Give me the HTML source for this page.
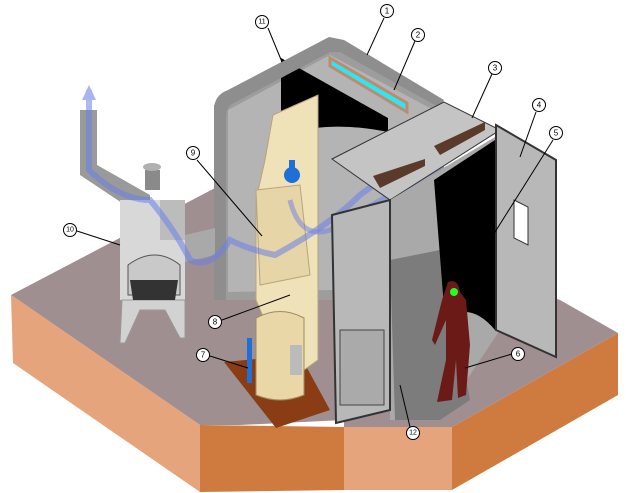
<!DOCTYPE html>
<html><head><style>
html,body{margin:0;padding:0;background:#fff;width:626px;height:493px;overflow:hidden}
svg{display:block}
text{font-family:"Liberation Sans",sans-serif;font-size:8px;text-anchor:middle;dominant-baseline:central}
</style></head><body>
<svg width="626" height="493" viewBox="0 0 626 493" xmlns="http://www.w3.org/2000/svg">
<!-- ground slab -->
<polygon points="11,295 215,188 560,300 618,333 452,427 344,427 344,420 240,425 200,425" fill="#a08f91"/>
<polygon points="11,295 200,425 200,492 13,363" fill="#e5a47c"/>
<polygon points="200,425 344,427 344,490 200,492" fill="#cf7a3f"/>
<polygon points="344,427 452,427 452,490 344,490" fill="#e5a47c"/>
<polygon points="452,427 618,333 618,395 452,490" fill="#cf7a3f"/>
<!-- pit -->
<polygon points="224,362 300,355 330,410 276,428" fill="#8a3d14"/>
<!-- left room walls -->
<polygon points="214,105 329,40 444,102 444,250 332,300 214,300" fill="#9d9d9d"/>
<polygon points="228,110 330,55 430,108 430,245 332,290 228,292" fill="#b4b4b4"/>
<path d="M281,58 L388,118 L388,132 Q330,120 281,135 Z" fill="#000"/>
<path d="M214,110 Q214,95 228,90 L329,37 L344,40 L444,100 L440,108 L340,52 L330,52 L232,104 Q226,108 226,118 L226,300 L214,300 Z" fill="#8e8e8e"/>
<polygon points="330,58 407,103 407,112 330,66" fill="#2ee6f0" stroke="#c08a70" stroke-width="3"/>
<!-- beige column -->
<polygon points="273,115 318,95 318,360 290,380 256,300 256,200 265,160" fill="#efe1b8" stroke="#b9a47a" stroke-width="1"/>
<polygon points="256,190 300,185 310,275 260,285" fill="#e6d5a6" stroke="#b9a47a"/>
<circle cx="292" cy="175" r="8" fill="#1e6fd6"/><rect x="289" y="160" width="6" height="10" fill="#1e6fd6"/>
<!-- tank -->
<path d="M256,318 Q280,305 304,318 L304,395 Q280,405 256,395 Z" fill="#e9d7a8" stroke="#a08a60"/>
<rect x="247" y="338" width="5" height="45" fill="#1e6fd6"/>
<rect x="290" y="345" width="12" height="30" fill="#bbb"/>
<!-- dust collector & ducts -->
<polygon points="80,110 97,110 97,165 150,195 150,205 125,205 80,175" fill="#9a9a9a"/>
<polygon points="120,200 185,200 185,300 120,300" fill="#d8d8d8"/>
<polygon points="160,200 185,200 185,240 160,240" fill="#bcbcbc"/>
<polygon points="185,235 215,228 215,255 185,262" fill="#a9a9a9"/>
<polygon points="145,170 160,170 160,190 145,190" fill="#8a8a8a"/>
<ellipse cx="152" cy="167" rx="9" ry="4" fill="#b0b0b0"/>
<path d="M128,265 Q155,245 180,265 L180,295 L128,295 Z" fill="#c9c9c9" stroke="#555"/>
<polygon points="122,300 185,300 185,338 180,338 165,310 140,310 125,343 120,343" fill="#d2d2d2" stroke="#999"/>
<polygon points="130,280 178,280 175,300 133,300" fill="#333"/>
<!-- blue airflow -->
<path d="M89,90 L89,170 Q120,200 150,200 Q175,230 190,260 Q210,270 230,240 Q250,250 275,255 Q330,225 360,195 Q420,150 480,128" fill="none" stroke="#6a7fe8" stroke-width="6" opacity="0.55"/>
<path d="M290,200 Q300,240 330,230 Q400,185 470,160" fill="none" stroke="#6a7fe8" stroke-width="5" opacity="0.5"/>
<polygon points="82,100 89,85 96,100" fill="#a8b5f0"/>
<!-- right booth -->
<polygon points="332,159 444,102 500,130 390,200" fill="#c4c4c4" stroke="#333"/>
<polygon points="373,176 425,159 425,166 380,188" fill="#5a3a2a"/>
<polygon points="434,146 485,122 485,130 440,155" fill="#5a3a2a"/>
<polygon points="390,200 500,134 500,330 440,420 390,420" fill="#a9a9a9"/>
<polygon points="390,260 440,250 470,400 440,420 395,420" fill="#7c7c7c"/>
<path d="M434,180 L495,140 L495,330 Q470,300 445,320 Z" fill="#000"/>
<polygon points="332,215 390,200 390,410 336,423" fill="#b8b8b8" stroke="#333" stroke-width="2"/>
<rect x="340" y="330" width="44" height="75" fill="#aaa" stroke="#444"/>
<polygon points="496,125 556,160 556,357 496,330" fill="#b8b8b8" stroke="#333" stroke-width="2"/>
<polygon points="514,200 528,207 528,245 514,238" fill="#fff" stroke="#333"/>
<!-- person -->
<path d="M448,282 Q458,278 460,292 L466,300 L470,345 L466,395 L458,398 L456,360 L452,400 L437,402 L446,360 L446,320 L435,345 L432,340 L442,300 Z" fill="#6b1a18"/>
<circle cx="454" cy="292" r="4" fill="#2f2"/>
<!-- leaders -->
<g stroke="#000" stroke-width="1" fill="#fff">
<line x1="384" y1="18" x2="367" y2="55"/>
<line x1="415" y1="41" x2="394" y2="90"/>
<line x1="492" y1="74" x2="472" y2="118"/>
<line x1="536" y1="112" x2="520" y2="157"/>
<line x1="553" y1="140" x2="490" y2="240"/>
<line x1="512" y1="354" x2="465" y2="368"/>
<line x1="210" y1="356" x2="248" y2="368"/>
<line x1="222" y1="320" x2="290" y2="295"/>
<line x1="197" y1="160" x2="262" y2="236"/>
<line x1="77" y1="231" x2="120" y2="245"/>
<line x1="268" y1="28" x2="282" y2="62"/>
<line x1="410" y1="427" x2="400" y2="385"/>
<circle cx="387" cy="11" r="6.5"/><circle cx="418" cy="35" r="6.5"/><circle cx="495" cy="68" r="6.5"/>
<circle cx="539" cy="105" r="6.5"/><circle cx="556" cy="133" r="6.5"/><circle cx="518" cy="354" r="6.5"/>
<circle cx="203" cy="355" r="6.5"/><circle cx="215" cy="322" r="6.5"/><circle cx="193" cy="153" r="6.5"/>
<circle cx="70" cy="230" r="6.5"/><circle cx="262" cy="22" r="6.5"/><circle cx="413" cy="433" r="6.5"/>
</g>
<g fill="#000">
<text x="387" y="11">1</text><text x="418" y="35">2</text><text x="495" y="68">3</text>
<text x="539" y="105">4</text><text x="556" y="133">5</text><text x="518" y="354">6</text>
<text x="203" y="355">7</text><text x="215" y="322">8</text><text x="193" y="153">9</text>
<text x="70" y="230" style="font-size:7px">10</text><text x="262" y="22" style="font-size:7px">11</text><text x="413" y="433" style="font-size:7px">12</text>
</g>
</svg>
</body></html>
